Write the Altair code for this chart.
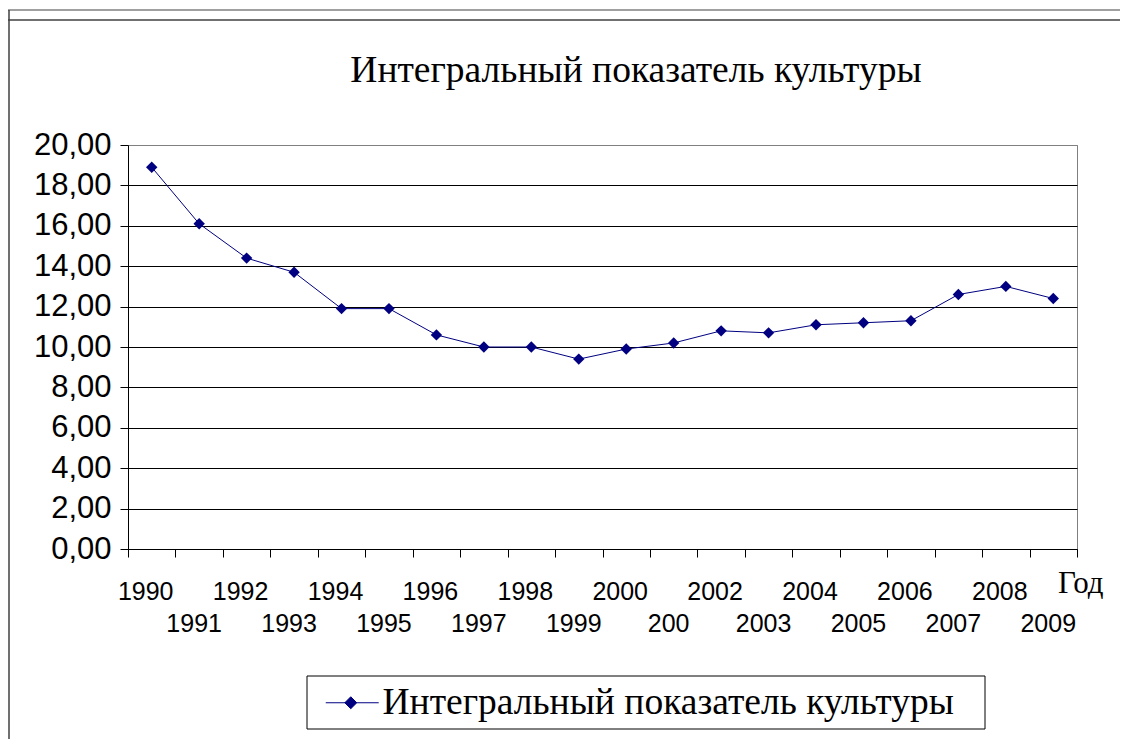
import altair as alt
import pandas as pd

years = [1990, 1991, 1992, 1993, 1994, 1995, 1996, 1997, 1998, 1999,
         2000, 2001, 2002, 2003, 2004, 2005, 2006, 2007, 2008, 2009]
values = [18.9, 16.1, 14.4, 13.7, 11.9, 11.9, 10.6, 10.0, 10.0, 9.4,
          9.9, 10.2, 10.8, 10.7, 11.1, 11.2, 11.3, 12.6, 13.0, 12.4]
year_labels = ["1990", "1991", "1992", "1993", "1994", "1995", "1996", "1997", "1998", "1999",
               "2000", "200", "2002", "2003", "2004", "2005", "2006", "2007", "2008", "2009"]
y_ticks = [0, 2, 4, 6, 8, 10, 12, 14, 16, 18, 20]
series_name = "Интегральный показатель культуры"
chart_title = "Интегральный показатель культуры"
x_title = "Год"

df = pd.DataFrame({"year": years, "value": values, "label": year_labels, "series": series_name})

W, H = 949, 404
NAVY = "#000080"

base = alt.Chart(df).transform_calculate(
    pos="datum.year - 1990 + 0.5", row="(datum.year - 1990) % 2"
)

x = alt.X("pos:Q",
          scale=alt.Scale(domain=[0, 20], nice=False, zero=False),
          axis=alt.Axis(values=list(range(21)), labels=False, ticks=True, tickSize=8,
                        tickColor="black", domainColor="black", grid=False, title=None))
y = alt.Y("value:Q",
          scale=alt.Scale(domain=[0, 20], nice=False),
          axis=alt.Axis(values=y_ticks,
                        labelExpr="replace(format(datum.value, '.2f'), '.', ',')",
                        labelFont="Liberation Sans", labelFontSize=31, labelColor="black",
                        tickSize=8, tickColor="black", domainColor="black",
                        gridColor={"condition": {"test": "datum.value == 20", "value": "#808080"},
                                   "value": "black"},
                        title=None, labelPadding=9))

line = base.mark_line(color=NAVY, strokeWidth=1).encode(x=x, y=y)

legend_path = "M-0.615,0H3.46M1.31,-0.46L1.77,0L1.31,0.46L0.85,0Z"
points = base.mark_point(filled=True, shape="diamond", size=130, opacity=1).encode(
    x=x, y=y,
    color=alt.Color("series:N", scale=alt.Scale(range=[NAVY]),
                    legend=alt.Legend(title=None, orient="none", legendX=179, legendY=531,
                                      padding=8,
                                      labelFont="Liberation Serif", labelFontSize=37.5,
                                      labelColor="black", labelOffset=30, labelLimit=1000,
                                      symbolType=legend_path, symbolSize=676,
                                      symbolStrokeColor=NAVY, symbolFillColor=NAVY,
                                      symbolStrokeWidth=1, symbolOpacity=1))
)

labels_top = base.transform_filter("datum.row == 0").mark_text(
    font="Liberation Sans", fontSize=25, baseline="alphabetic", align="center", dx=-6, color="black"
).encode(x=x, y=alt.value(455), text="label:N")
labels_bottom = base.transform_filter("datum.row == 1").mark_text(
    font="Liberation Sans", fontSize=25, baseline="alphabetic", align="center", dx=-5, color="black"
).encode(x=x, y=alt.value(487), text="label:N")

one = pd.DataFrame({"t": [chart_title], "g": [x_title]})
title_layer = alt.Chart(one).mark_text(
    font="Liberation Serif", fontSize=37.5, align="center", baseline="alphabetic", color="black"
).encode(x=alt.value(508), y=alt.value(-63), text="t:N")
god_layer = alt.Chart(one).mark_text(
    font="Liberation Serif", fontSize=31, align="left", baseline="alphabetic", color="black"
).encode(x=alt.value(930), y=alt.value(448), text="g:N")

frame_top1 = alt.Chart(one).mark_rule(color="#404040", strokeWidth=1).encode(
    x=alt.value(-120), x2=alt.value(1000), y=alt.value(-135))
frame_top2 = alt.Chart(one).mark_rule(color="#404040", strokeWidth=1.5).encode(
    x=alt.value(-120), x2=alt.value(1000), y=alt.value(-125))
frame_left = alt.Chart(one).mark_rule(color="#404040", strokeWidth=1.5).encode(
    x=alt.value(-119), y=alt.value(-135), y2=alt.value(700))
legend_box = alt.Chart(one).mark_rect(fill="white", stroke="black", strokeWidth=1).encode(
    x=alt.value(179), x2=alt.value(857), y=alt.value(531), y2=alt.value(584))

chart = alt.layer(
    frame_top1, frame_top2, frame_left, legend_box, line, points, labels_top, labels_bottom,
    title_layer, god_layer
).properties(
    width=W, height=H,
    autosize=alt.AutoSizeParams(type="none"),
    padding={"left": 120, "top": 137, "right": 43, "bottom": 190},
).configure_view(stroke="#808080", strokeWidth=1)

chart.save("out.html", embed_options={"renderer": "svg", "actions": False})
